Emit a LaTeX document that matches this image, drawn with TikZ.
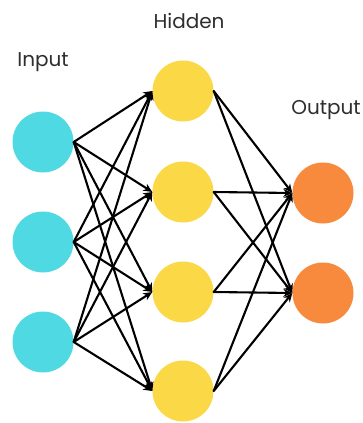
\documentclass[tikz,border=0pt]{standalone}
\usepackage{fontspec}
\setmainfont{Poppins}
\usetikzlibrary{arrows.meta}
\definecolor{incol}{HTML}{4FD9E2}
\definecolor{hidcol}{HTML}{FBD845}
\definecolor{outcol}{HTML}{F78A3D}
\definecolor{txtcol}{HTML}{2E2E2E}
\tikzset{
  neuron/.style={circle, minimum size=61pt, inner sep=0pt},
  lab/.style={text=txtcol, font=\fontsize{20}{24}\selectfont},
  edge/.style={-{Stealth[length=9pt,width=8pt]}, line width=2.1pt}
}
\begin{document}
\begin{tikzpicture}[x=1pt, y=-1pt, line cap=round, line join=round]
            \useasboundingbox (0,0) rectangle (363,423);
            % 入力層
            \node[neuron, fill=incol] (i1) at (43,142) {};
            \node[neuron, fill=incol] (i2) at (43,242) {};
            \node[neuron, fill=incol] (i3) at (43,342) {};
            % 隠れ層
            \node[neuron, fill=hidcol] (h1) at (183,91) {};
            \node[neuron, fill=hidcol] (h2) at (183,192) {};
            \node[neuron, fill=hidcol] (h3) at (183,292) {};
            \node[neuron, fill=hidcol] (h4) at (183,391) {};
            % 出力層
            \node[neuron, fill=outcol] (o1) at (323,193) {};
            \node[neuron, fill=outcol] (o2) at (323,293) {};
            % --- ラベル ---
            \node[lab] (tin) at (43,62) {Input};
            \node[lab] (thid) at (189,21) {Hidden};
            \node[lab] (tout) at (326,110) {Output};
            % --- 矢印 ---
            \foreach \a in {i1,i2,i3}
              \foreach \b in {h1,h2,h3,h4}
                \draw[edge] (\a.east) -- (\b.west);
            \foreach \a in {h1,h2,h3,h4}
              \foreach \b in {o1,o2}
                \draw[edge] (\a.east) -- (\b.west);
        \end{tikzpicture}
\end{document}
